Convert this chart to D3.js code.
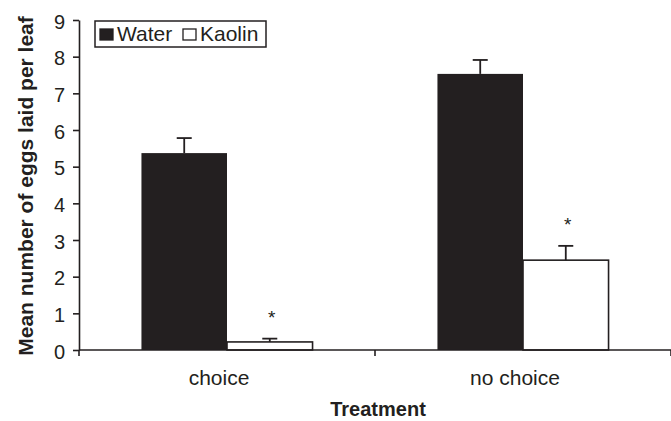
<!DOCTYPE html>
<html>
<head>
<meta charset="utf-8">
<script src="https://cdn.jsdelivr.net/npm/d3@7"></script>
<style>
  body { margin: 0; background: #fff; }
  svg { display: block; font-family: "Liberation Sans", Arial, sans-serif; }
</style>
</head>
<body>
<svg id="chart" width="671" height="421"></svg>
<script>
// data
const categories = ['choice', 'no choice'];
const series = ['Water', 'Kaolin'];
const waterMeans = [5.37, 7.53];
const waterErr = [0.41, 0.38];
const kaolinMeans = [0.22, 2.45];
const kaolinErr = [0.09, 0.39];
const significant = [false, true];   // per series: star only above kaolin
const yTicks = [0, 1, 2, 3, 4, 5, 6, 7, 8, 9];

const ink = '#231f20';
const rows = [];
categories.forEach((c, i) => {
  rows.push({cat: c, s: 'Water', v: waterMeans[i], e: waterErr[i], star: significant[0]});
  rows.push({cat: c, s: 'Kaolin', v: kaolinMeans[i], e: kaolinErr[i], star: significant[1]});
});

const svg = d3.select('#chart');

// scales
const x0 = d3.scaleBand().domain(categories).range([79, 671]).padding(0);
const x1 = d3.scaleBand().domain(series).range([0, x0.bandwidth()])
  .paddingInner(0).paddingOuter(0.73);
const y = d3.scaleLinear().domain([0, 9]).range([350, 20]);

// bars
svg.append('g').selectAll('rect')
  .data(rows)
  .enter()
  .append('rect')
  .attr('x', d => x0(d.cat) + x1(d.s))
  .attr('y', d => y(d.v))
  .attr('width', x1.bandwidth())
  .attr('height', d => y(0) - y(d.v))
  .attr('fill', d => d.s === 'Water' ? ink : '#fff')
  .attr('stroke', ink)
  .attr('stroke-width', d => d.s === 'Water' ? 0 : 1.6);

// error bars (upper only)
const err = svg.append('g').attr('stroke', ink).attr('stroke-width', 1.8);
rows.forEach(d => {
  const cx = x0(d.cat) + x1(d.s) + x1.bandwidth() / 2;
  err.append('line')
    .attr('x1', cx).attr('x2', cx)
    .attr('y1', y(d.v)).attr('y2', y(d.v + d.e));
  err.append('line')
    .attr('x1', cx - 7.5).attr('x2', cx + 7.5)
    .attr('y1', y(d.v + d.e)).attr('y2', y(d.v + d.e));
});

// significance stars
svg.append('g').selectAll('text')
  .data(rows.filter(d => d.star))
  .enter()
  .append('text')
  .attr('x', d => x0(d.cat) + x1(d.s) + x1.bandwidth() / 2 + 2)
  .attr('y', d => y(d.v + d.e) - 15)
  .attr('text-anchor', 'middle')
  .attr('font-size', 19)
  .attr('fill', ink)
  .text('*');

// y axis
const yAxis = svg.append('g')
  .attr('transform', 'translate(79,0)')
  .call(d3.axisLeft(y).tickValues(yTicks).tickSize(6).tickPadding(8).tickSizeOuter(0));
yAxis.select('.domain').attr('stroke', ink).attr('stroke-width', 1.6);
yAxis.selectAll('.tick line').attr('stroke', ink).attr('stroke-width', 1.6);
yAxis.selectAll('.tick text')
  .attr('font-size', 20).attr('fill', ink).attr('dy', '0.4em')
  .attr('font-family', '"Liberation Sans", Arial, sans-serif');

// x axis: line plus separators at band edges
const xg = svg.append('g').attr('stroke', ink).attr('stroke-width', 1.6);
xg.append('line')
  .attr('x1', x0.range()[0]).attr('x2', x0.range()[1])
  .attr('y1', y(0)).attr('y2', y(0));
const edges = categories.map(c => x0(c)).concat([x0.range()[1]]);
edges.forEach(ex => {
  xg.append('line')
    .attr('x1', ex).attr('x2', ex)
    .attr('y1', y(0)).attr('y2', y(0) + 6);
});

svg.append('g').selectAll('text')
  .data(categories)
  .enter()
  .append('text')
  .attr('x', d => x0(d) + x0.bandwidth() / 2 - 8)
  .attr('y', 385)
  .attr('text-anchor', 'middle')
  .attr('font-size', 21)
  .attr('fill', ink)
  .text(d => d);

// axis titles
svg.append('text')
  .attr('x', 378).attr('y', 416)
  .attr('text-anchor', 'middle')
  .attr('font-size', 20).attr('font-weight', 'bold')
  .attr('fill', ink)
  .text('Treatment');

svg.append('text')
  .attr('transform', 'translate(33,186) rotate(-90)')
  .attr('text-anchor', 'middle')
  .attr('font-size', 21).attr('font-weight', 'bold')
  .attr('fill', ink)
  .text('Mean number of eggs laid per leaf');

// legend
const lg = svg.append('g');
lg.append('rect')
  .attr('x', 95).attr('y', 21).attr('width', 171).attr('height', 26)
  .attr('fill', '#fff').attr('stroke', ink).attr('stroke-width', 1.5);
const legendX = [100, 183];
series.forEach((s, i) => {
  lg.append('rect')
    .attr('x', legendX[i]).attr('y', 29).attr('width', 13).attr('height', 11)
    .attr('fill', s === 'Water' ? ink : '#fff')
    .attr('stroke', ink).attr('stroke-width', 1.3);
  lg.append('text')
    .attr('x', legendX[i] + 17).attr('y', 41)
    .attr('font-size', 21).attr('fill', ink)
    .text(s);
});
</script>
</body>
</html>
